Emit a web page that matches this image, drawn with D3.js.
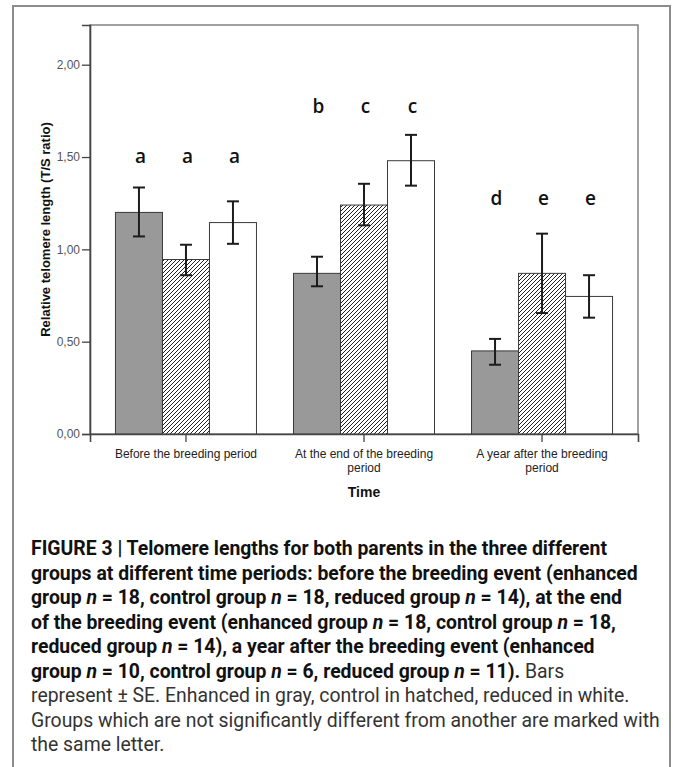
<!DOCTYPE html>
<html><head><meta charset="utf-8">
<script src="https://cdn.jsdelivr.net/npm/d3@7"></script>
<style>
body{margin:0;background:#fff;}
svg{display:block;}
</style></head>
<body>
<script>
// ---- data ----
const categories = ["Before the breeding period", "At the end of the breeding period", "A year after the breeding period"];
const categoryLines = [["Before the breeding period"], ["At the end of the breeding", "period"], ["A year after the breeding", "period"]];
const groups = ["Enhanced", "Control", "Reduced"];
const enhancedMean = [1.20, 0.87, 0.45];
const controlMean  = [0.945, 1.24, 0.87];
const reducedMean  = [1.145, 1.48, 0.745];
const enhancedHi = [1.335, 0.96, 0.515];
const enhancedLo = [1.07, 0.80, 0.375];
const controlHi  = [1.025, 1.355, 1.085];
const controlLo  = [0.86, 1.13, 0.655];
const reducedHi  = [1.26, 1.62, 0.86];
const reducedLo  = [1.03, 1.345, 0.63];
const enhancedLetters = ["a", "b", "d"];
const controlLetters  = ["a", "c", "e"];
const reducedLetters  = ["a", "c", "e"];
const letterLevel = [1.50, 1.77, 1.27];
const yTicks = [0, 0.5, 1.0, 1.5, 2.0];
const yTickLabels = ["0,00", "0,50", "1,00", "1,50", "2,00"];
const yTitle = "Relative telomere length (T/S ratio)";
const xTitle = "Time";
const captionLines = [
  [["FIGURE 3 | Telomere lengths for both parents in the three different", "b"]],
  [["groups at different time periods: before the breeding event (enhanced", "b"]],
  [["group ", "b"], ["n", "bi"], [" = 18, control group ", "b"], ["n", "bi"], [" = 18, reduced group ", "b"], ["n", "bi"], [" = 14), at the end", "b"]],
  [["of the breeding event (enhanced group ", "b"], ["n", "bi"], [" = 18, control group ", "b"], ["n", "bi"], [" = 18,", "b"]],
  [["reduced group ", "b"], ["n", "bi"], [" = 14), a year after the breeding event (enhanced", "b"]],
  [["group ", "b"], ["n", "bi"], [" = 10, control group ", "b"], ["n", "bi"], [" = 6, reduced group ", "b"], ["n", "bi"], [" = 11).", "b"], [" Bars", "r"]],
  [["represent \u00B1 SE. Enhanced in gray, control in hatched, reduced in white.", "r"]],
  [["Groups which are not significantly different from another are marked with", "r"]],
  [["the same letter.", "r"]]
];

// ---- build ----
const series = groups.map((g, i) => ({
  name: g,
  mean: [enhancedMean, controlMean, reducedMean][i],
  hi: [enhancedHi, controlHi, reducedHi][i],
  lo: [enhancedLo, controlLo, reducedLo][i],
  letters: [enhancedLetters, controlLetters, reducedLetters][i]
}));
const rows = [];
categories.forEach((c, ci) => series.forEach((s, si) => rows.push({
  cat: c, ci, grp: s.name, si, v: s.mean[ci], hi: s.hi[ci], lo: s.lo[ci], letter: s.letters[ci]
})));

const W = 673, H = 767;
const svg = d3.select("body").append("svg").attr("width", W).attr("height", H);
const defs = svg.append("defs");
const pat = defs.append("pattern").attr("id", "hatch").attr("patternUnits", "userSpaceOnUse")
  .attr("width", 4).attr("height", 4);
pat.append("rect").attr("width", 4).attr("height", 4).attr("fill", "#fff");
pat.append("path").attr("d", "M-1,1 l2,-2 M0,4 l4,-4 M3,5 l2,-2")
  .attr("stroke", "#222").attr("stroke-width", 1.0);

// outer frame
svg.append("path").attr("d", `M13,${H} V6 H670 V${H}`).attr("fill", "none")
  .attr("stroke", "#8c8c8c").attr("stroke-width", 2);

const L = 90, R = 638, T = 25, B = 434;
const y = d3.scaleLinear().domain([0, 2.215]).range([B, T]);
const x0 = d3.scaleBand().domain(categories).range([L, R]).paddingInner(0.208).paddingOuter(0.143);
const x1 = d3.scaleBand().domain(groups).range([0, x0.bandwidth()]);
const fills = d3.scaleOrdinal().domain(groups).range(["#999999", "url(#hatch)", "#ffffff"]);

// plot frame
svg.append("rect").attr("x", L).attr("y", T).attr("width", R - L).attr("height", B - T)
  .attr("fill", "none").attr("stroke", "#8a8a8a").attr("stroke-width", 1.6);

// bars
svg.append("g").selectAll("rect").data(rows).join("rect")
  .attr("x", d => x0(d.cat) + x1(d.grp))
  .attr("y", d => y(d.v))
  .attr("width", x1.bandwidth())
  .attr("height", d => y(0) - y(d.v))
  .attr("fill", d => fills(d.grp))
  .attr("stroke", "#3a3a3a").attr("stroke-width", 1);

// error bars
const eb = svg.append("g").attr("stroke", "#1c1c1c").attr("stroke-width", 2);
rows.forEach(d => {
  const cx = x0(d.cat) + x1(d.grp) + x1.bandwidth() / 2;
  eb.append("line").attr("x1", cx).attr("x2", cx).attr("y1", y(d.hi)).attr("y2", y(d.lo));
  eb.append("line").attr("x1", cx - 6).attr("x2", cx + 6).attr("y1", y(d.hi)).attr("y2", y(d.hi));
  eb.append("line").attr("x1", cx - 6).attr("x2", cx + 6).attr("y1", y(d.lo)).attr("y2", y(d.lo));
});

// letters
svg.append("g").selectAll("text").data(rows).join("text")
  .attr("x", d => x0(d.cat) + x1(d.grp) + x1.bandwidth() / 2 + 1.5)
  .attr("y", d => y(letterLevel[d.ci]))
  .attr("dy", "0.3em")
  .attr("text-anchor", "middle")
  .attr("font-family", "'Open Sans', sans-serif").attr("font-size", 19).attr("font-weight", 600)
  .attr("fill", "#111")
  .text(d => d.letter);

// y axis
const yAxis = d3.axisLeft(y).tickValues(yTicks).tickSize(8).tickPadding(2)
  .tickFormat((d, i) => yTickLabels[i]);
const gy = svg.append("g").attr("transform", `translate(${L},0)`).call(yAxis);
gy.select(".domain").attr("stroke", "#444").attr("stroke-width", 1.6);
gy.selectAll(".tick line").attr("stroke", "#444").attr("stroke-width", 1.3);
gy.selectAll(".tick text").attr("font-family", "'Liberation Sans', Arial, sans-serif")
  .attr("font-size", 12).attr("fill", "#555");

// x axis
const xAxis = d3.axisBottom(x0).tickSize(8).tickFormat("");
const gx = svg.append("g").attr("transform", `translate(0,${B})`).call(xAxis);
gx.select(".domain").attr("stroke", "#444").attr("stroke-width", 1.6);
gx.selectAll(".tick line").attr("stroke", "#444").attr("stroke-width", 1.3);
gx.selectAll(".tick").each(function (d, i) {
  const t = d3.select(this).append("text").attr("fill", "#222")
    .attr("font-family", "'Liberation Sans', Arial, sans-serif").attr("font-size", 12)
    .attr("text-anchor", "middle");
  categoryLines[i].forEach((ln, k) => t.append("tspan").attr("x", 0).attr("y", 24 + k * 13.5).text(ln));
});

// axis titles
svg.append("text").attr("transform", `translate(45,${(T + B) / 2}) rotate(-90)`)
  .attr("text-anchor", "middle").attr("dy", "0.35em")
  .attr("font-family", "'Liberation Sans', Arial, sans-serif").attr("font-size", 13).attr("font-weight", "bold")
  .attr("fill", "#111").text(yTitle);
svg.append("text").attr("x", (L + R) / 2).attr("y", 497)
  .attr("text-anchor", "middle")
  .attr("font-family", "'Liberation Sans', Arial, sans-serif").attr("font-size", 14).attr("font-weight", "bold")
  .attr("fill", "#111").text(xTitle);

// caption
const cap = svg.append("g").attr("font-family", "'Liberation Sans Narrow', 'Roboto', sans-serif").attr("font-size", 19.4);
captionLines.forEach((segs, i) => {
  const t = cap.append("text").attr("x", 31).attr("y", 555 + i * 24.5);
  segs.forEach(([s, st]) => {
    t.append("tspan").text(s)
      .attr("font-weight", st.startsWith("b") ? "bold" : "normal")
      .attr("font-style", st === "bi" ? "italic" : "normal")
      .attr("fill", st === "r" ? "#333" : "#111");
  });
});
</script>
</body></html>
